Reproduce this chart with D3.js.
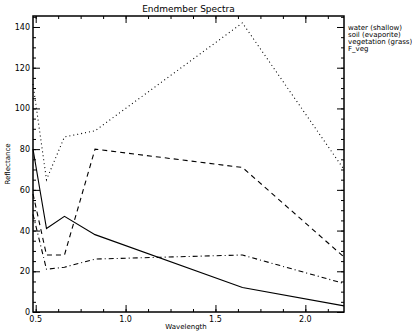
<!DOCTYPE html>
<html>
<head>
<meta charset="utf-8">
<script src="https://cdn.jsdelivr.net/npm/d3@7"></script>
<style>
  body { margin: 0; background: #fff; }
  svg text { font-family: 'DejaVu Sans', sans-serif; fill: #000; }
  .axis path, .axis line { stroke: #000; }
</style>
</head>
<body>
<svg id="chart" width="412" height="332"></svg>
<script>
// Landsat TM band centres (microns)
const wavelengths = [0.485, 0.56, 0.66, 0.83, 1.65, 2.215];

const water = [80, 41, 47, 38, 12, 3];
const soil = [112, 65, 86, 89, 142, 70];
const vegetation = [58, 28, 28, 80, 71, 27];
const fveg = [48, 21, 22, 26, 28, 14];

const seriesNames = ['water (shallow)', 'soil (evaporite)', 'vegetation (grass)', 'F_veg'];
const xTicks = [0.5, 1.0, 1.5, 2.0];
const yTicks = [0, 20, 40, 60, 80, 100, 120, 140];

const series = [
  { name: seriesNames[0], values: water, dash: null },
  { name: seriesNames[1], values: soil, dash: '1,3' },
  { name: seriesNames[2], values: vegetation, dash: '5,4' },
  { name: seriesNames[3], values: fveg, dash: '5,3,1,3' }
];

const svg = d3.select('#chart'),
  margin = {top: 16, right: 68, bottom: 20, left: 33},
  width = +svg.attr('width') - margin.left - margin.right,
  height = +svg.attr('height') - margin.top - margin.bottom;

const x = d3.scaleLinear().domain([0.485, 2.215]).range([0, width]);
const y = d3.scaleLinear().domain([0, 145.4]).range([height, 0]);

const g = svg.append('g')
  .attr('transform', 'translate(' + margin.left + ',' + margin.top + ')');

// minor ticks every quarter of a major step
const xMinor = d3.range(0.5, 2.25, 0.125).filter(v => v <= 2.215);
const yMinor = d3.range(0, 146, 5);

function axisStyle(sel) {
  sel.select('.domain').remove();
  sel.selectAll('text').style('font-size', '8px');
}

// bottom
g.append('g').attr('class', 'axis')
  .attr('transform', 'translate(0,' + height + ')')
  .call(d3.axisTop(x).tickValues(xMinor).tickSize(3).tickFormat(''))
  .call(axisStyle);
g.append('g').attr('class', 'axis')
  .attr('transform', 'translate(0,' + height + ')')
  .call(d3.axisTop(x).tickValues(xTicks).tickSize(7).tickFormat(''))
  .call(axisStyle);
g.append('g')
  .selectAll('text')
  .data(xTicks)
  .enter().append('text')
    .attr('x', d => x(d))
    .attr('y', height + 10)
    .attr('text-anchor', 'middle')
    .style('font-size', '8px')
    .text(d3.format('.1f'));

// top
g.append('g').attr('class', 'axis')
  .call(d3.axisBottom(x).tickValues(xMinor).tickSize(3).tickFormat(''))
  .call(axisStyle);
g.append('g').attr('class', 'axis')
  .call(d3.axisBottom(x).tickValues(xTicks).tickSize(7).tickFormat(''))
  .call(axisStyle);

// left
g.append('g').attr('class', 'axis')
  .call(d3.axisRight(y).tickValues(yMinor).tickSize(3).tickFormat(''))
  .call(axisStyle);
g.append('g').attr('class', 'axis')
  .call(d3.axisRight(y).tickValues(yTicks).tickSize(7).tickFormat(''))
  .call(axisStyle);
g.append('g')
  .selectAll('text')
  .data(yTicks)
  .enter().append('text')
    .attr('x', -3)
    .attr('y', d => y(d) + 3)
    .attr('text-anchor', 'end')
    .style('font-size', '8px')
    .text(d => d);

// right
g.append('g').attr('class', 'axis')
  .attr('transform', 'translate(' + width + ',0)')
  .call(d3.axisLeft(y).tickValues(yMinor).tickSize(3).tickFormat(''))
  .call(axisStyle);
g.append('g').attr('class', 'axis')
  .attr('transform', 'translate(' + width + ',0)')
  .call(d3.axisLeft(y).tickValues(yTicks).tickSize(7).tickFormat(''))
  .call(axisStyle);

// frame
g.append('rect')
  .attr('width', width)
  .attr('height', height)
  .attr('fill', 'none')
  .attr('stroke', '#000')
  .attr('stroke-width', 1.5);

const line = d3.line()
  .x((d, i) => x(wavelengths[i]))
  .y(d => y(d));

g.selectAll('.series')
  .data(series)
  .enter().append('path')
    .attr('class', 'series')
    .attr('d', d => line(d.values))
    .attr('fill', 'none')
    .attr('stroke', '#000')
    .attr('stroke-width', 1.1)
    .attr('stroke-dasharray', d => d.dash);

// legend, text only
svg.append('g')
  .selectAll('text')
  .data(seriesNames)
  .enter().append('text')
    .attr('x', margin.left + width + 4)
    .attr('y', (d, i) => 30 + i * 7)
    .style('font-size', '7px')
    .text(d => d);

svg.append('text')
  .attr('x', margin.left + width / 2)
  .attr('y', 12)
  .attr('text-anchor', 'middle')
  .style('font-size', '9px')
  .text('Endmember Spectra');

svg.append('text')
  .attr('x', 186)
  .attr('y', 329)
  .attr('text-anchor', 'middle')
  .style('font-size', '7px')
  .text('Wavelength');

svg.append('text')
  .attr('transform', 'translate(10,' + (margin.top + height / 2) + ') rotate(-90)')
  .attr('text-anchor', 'middle')
  .style('font-size', '7px')
  .text('Reflectance');
</script>
</body>
</html>
